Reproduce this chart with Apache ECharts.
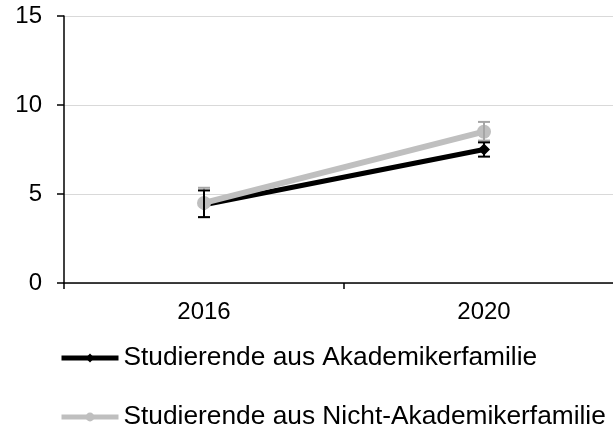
<!DOCTYPE html>
<html>
<head>
<meta charset="utf-8">
<script src="https://cdn.jsdelivr.net/npm/echarts@6/dist/echarts.min.js"></script>
<style>html,body{margin:0;padding:0;background:#fff}#c{width:613px;height:430px}</style>
</head>
<body>
<div id="c"></div>
<script>
const categories = ['2016', '2020'];
const seriesNames = ['Studierende aus Akademikerfamilie', 'Studierende aus Nicht-Akademikerfamilie'];
const akademiker = [4.4, 7.5];
const akademikerLow = [3.7, 7.1];
const akademikerHigh = [5.2, 7.9];
const nichtAkademiker = [4.5, 8.5];
const nichtAkademikerLow = [3.7, 8.0];
const nichtAkademikerHigh = [5.35, 9.05];
const yTicks = [0, 5, 10, 15];

const FONT = '"Liberation Sans", Arial, sans-serif';
const BLACK = '#000000';
const GREY = '#bfbfbf';
const GREY_ERR = '#a6a6a6';

function errData(low, high) {
  return categories.map((c, i) => [i, low[i], high[i]]);
}
function errSeries(name, low, high, color, z) {
  return {
    type: 'custom',
    name: name + ' err',
    z: z,
    silent: true,
    data: errData(low, high),
    encode: { x: 0, y: [1, 2] },
    renderItem: function (params, api) {
      const x = api.value(0);
      const lo = api.coord([x, api.value(1)]);
      const hi = api.coord([x, api.value(2)]);
      const w = 6;
      const style = { stroke: color, lineWidth: 2 };
      return {
        type: 'group',
        children: [
          { type: 'line', shape: { x1: lo[0], y1: lo[1], x2: hi[0], y2: hi[1] }, style: style },
          { type: 'line', shape: { x1: lo[0] - w, y1: lo[1], x2: lo[0] + w, y2: lo[1] }, style: style },
          { type: 'line', shape: { x1: hi[0] - w, y1: hi[1], x2: hi[0] + w, y2: hi[1] }, style: style }
        ]
      };
    }
  };
}

function legendFor(name, top) {
  return {
    orient: 'vertical',
    left: 59,
    top: top,
    padding: 0,
    itemWidth: 57,
    itemHeight: 11,
    data: [name],
    lineStyle: { width: 5 },
    textStyle: { fontFamily: FONT, fontSize: 26.3, color: '#000' }
  };
}

const chart = echarts.init(document.getElementById('c'));
chart.setOption({
  animation: false,
  backgroundColor: '#fff',
  textStyle: { fontFamily: FONT },
  grid: { left: 64, width: 560, top: 16, height: 267, outerBoundsMode: 'none', containLabel: false },
  legend: [legendFor(seriesNames[0], 345), legendFor(seriesNames[1], 404)],
  xAxis: {
    type: 'category',
    data: categories,
    boundaryGap: true,
    axisLine: { lineStyle: { color: '#000', width: 1.5 } },
    axisTick: { show: true, length: 6, lineStyle: { color: '#000', width: 1.5 } },
    axisLabel: { fontFamily: FONT, fontSize: 24, color: '#000', margin: 17 },
    splitLine: { show: false }
  },
  yAxis: {
    type: 'value',
    min: 0,
    max: 15,
    interval: 5,
    axisLine: { show: true, lineStyle: { color: '#000', width: 1.5 } },
    axisTick: { show: true, length: 7, lineStyle: { color: '#000', width: 1.5 } },
    axisLabel: { fontFamily: FONT, fontSize: 24, color: '#000', margin: 22,
      formatter: v => yTicks.includes(v) ? String(v) : '' },
    splitLine: { show: true, lineStyle: { color: '#d9d9d9', width: 1.2 } }
  },
  series: [
    {
      name: seriesNames[0],
      type: 'line',
      data: akademiker,
      z: 2,
      symbol: 'diamond',
      symbolSize: 12,
      lineStyle: { color: BLACK, width: 5 },
      itemStyle: { color: BLACK }
    },
    {
      name: seriesNames[1],
      type: 'line',
      data: nichtAkademiker,
      z: 3,
      symbol: 'circle',
      symbolSize: 14,
      lineStyle: { color: GREY, width: 6 },
      itemStyle: { color: GREY }
    },
    errSeries(seriesNames[1], nichtAkademikerLow, nichtAkademikerHigh, GREY_ERR, 4),
    errSeries(seriesNames[0], akademikerLow, akademikerHigh, BLACK, 5)
  ]
});
</script>
</body>
</html>
